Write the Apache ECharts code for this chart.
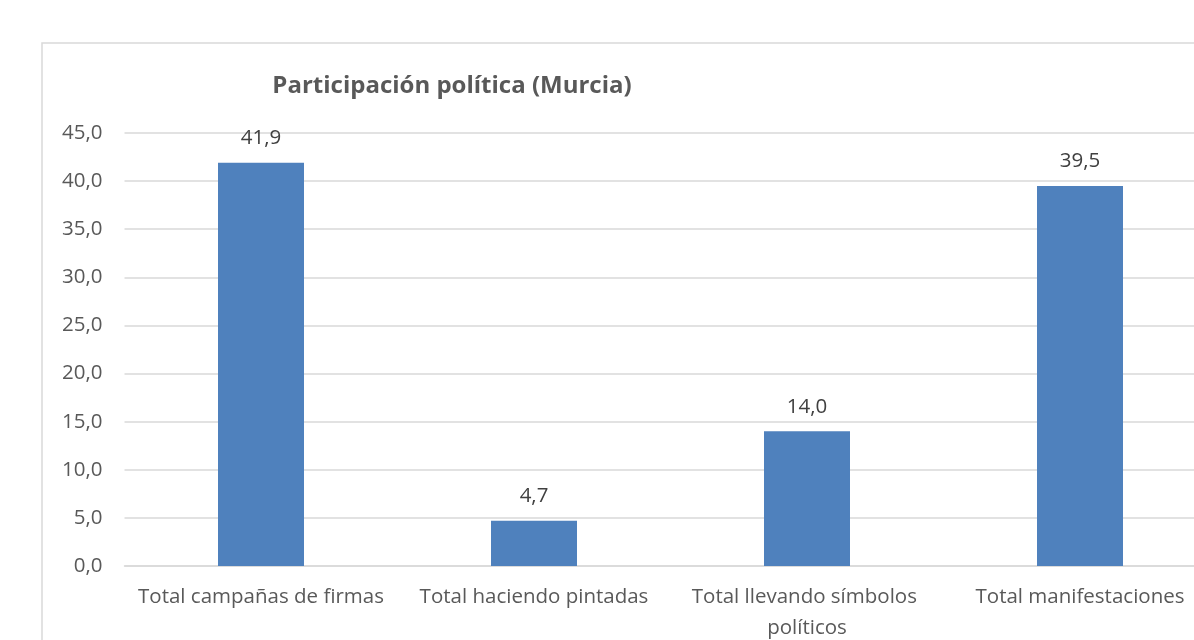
<!DOCTYPE html>
<html>
<head>
<meta charset="utf-8">
<script src="https://cdn.jsdelivr.net/npm/echarts@6/dist/echarts.min.js"></script>
<style>
  html, body { margin: 0; padding: 0; overflow: hidden; background: #fff; }
  #chart { width: 1260px; height: 700px; }
</style>
</head>
<body>
<div id="chart"></div>
<script>
var categories = ["Total campañas de firmas", "Total haciendo pintadas", "Total llevando símbolos políticos", "Total manifestaciones"];
var values = [41.9, 4.7, 14.0, 39.5];

function comma(v) {
    return Number(v).toFixed(1).replace('.', ',');
}

var myChart = echarts.init(document.getElementById("chart"));
var font = "'Open Sans', 'Liberation Sans', sans-serif";

var option = {
    animation: false,
    textStyle: { fontFamily: font },
    title: {
        text: 'Participación política (Murcia)',
        left: 447,
        top: 69,
        textAlign: 'center',
        textStyle: { fontSize: 24, fontWeight: 'bold', color: '#595959', fontFamily: font }
    },
    graphic: [{
        type: 'rect',
        shape: { x: 42, y: 43, width: 1400, height: 900 },
        style: { fill: 'none', stroke: '#d9d9d9', lineWidth: 1.5 },
        z: -1
    }],
    grid: { left: 124.5, right: 43.5, top: 133, bottom: 134 },
    xAxis: {
        type: 'category',
        data: categories,
        axisLine: { lineStyle: { color: '#d9d9d9', width: 1.5 } },
        axisTick: { show: false },
        axisLabel: {
            color: '#595959',
            fontSize: 20.5,
            margin: 16,
            lineHeight: 31,
            width: 268,
            overflow: 'break',
            interval: 0
        }
    },
    yAxis: {
        type: 'value',
        min: 0,
        max: 45,
        interval: 5,
        axisLabel: {
            color: '#595959',
            fontSize: 20.5,
            margin: 22,
            formatter: comma
        },
        splitLine: { lineStyle: { color: '#d9d9d9', width: 1.5 } }
    },
    series: [{
        type: 'bar',
        data: values,
        barWidth: 86,
        itemStyle: { color: '#4f81bd' },
        label: {
            show: true,
            position: 'top',
            distance: 14,
            color: '#404040',
            fontSize: 20.5,
            formatter: function (p) { return comma(p.value); }
        }
    }]
};
myChart.setOption(option);
</script>
</body>
</html>
